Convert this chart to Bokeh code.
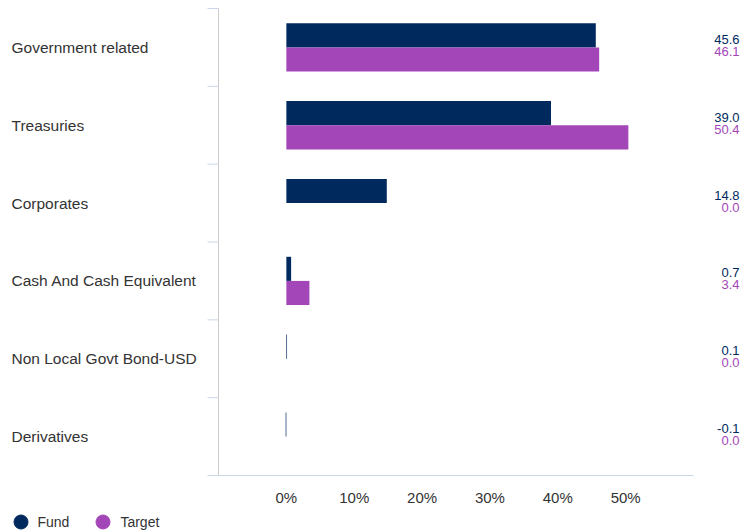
from bokeh.plotting import figure
from bokeh.models import (Range1d, ColumnDataSource, LabelSet, Legend, LegendItem)
from bokeh.core.properties import value
from bokeh.transform import dodge
from bokeh.embed import file_html
from bokeh.resources import INLINE

categories = ["Government related", "Treasuries", "Corporates",
              "Cash And Cash Equivalent", "Non Local Govt Bond-USD", "Derivatives"]
fund = [45.6, 39.0, 14.8, 0.7, 0.1, -0.1]
target = [46.1, 50.4, 0.0, 3.4, 0.0, 0.0]
x_ticks = [0, 10, 20, 30, 40, 50]
x_min, x_max = -10, 60

FUND_COLOR = "#002a5e"
TARGET_COLOR = "#a346b8"
FONT = "Liberation Sans"
TEXT = "#333333"

# layout (pixels)
W, H = 740, 531
PLOT_L, PLOT_R, PLOT_T, PLOT_B = 218, 693, 8, 475
TICK_PX = 11

n = len(categories)
px_x = (PLOT_R - PLOT_L) / (x_max - x_min)
px_y = (PLOT_B - PLOT_T) / n
x_range = Range1d(x_min - PLOT_L / px_x, x_max + (W - PLOT_R) / px_x)
y_range = Range1d((n - 0.5) + (H - PLOT_B) / px_y, -0.5 - PLOT_T / px_y)

pos = list(range(n))
src = ColumnDataSource(dict(
    pos=pos, cat=categories, fund=fund, target=target,
    fund_lbl=[f"{v:.1f}" for v in fund],
    target_lbl=[f"{v:.1f}" for v in target],
))

p = figure(width=W, height=H, x_range=x_range, y_range=y_range,
           output_backend="svg", toolbar_location=None,
           x_axis_type=None, y_axis_type=None,
           min_border=0)
p.outline_line_color = None
p.xgrid.visible = False
p.ygrid.visible = False

bar_h = 0.31
p.hbar(y=dodge("pos", -bar_h / 2), left=0, right="fund", height=bar_h,
       source=src, fill_color=FUND_COLOR, line_color=None)
p.hbar(y=dodge("pos", bar_h / 2), left=0, right="target", height=bar_h,
       source=src, fill_color=TARGET_COLOR, line_color=None)

# category axis line and boundary ticks
bounds = [i - 0.5 for i in range(n + 1)]
p.segment(x0=[x_min], y0=[-0.5], x1=[x_min], y1=[n - 0.5],
          line_color="#cccccc", line_width=1)
p.segment(x0=[x_min - TICK_PX / px_x] * len(bounds), y0=bounds,
          x1=[x_min] * len(bounds), y1=bounds,
          line_color="#ccd6eb", line_width=1)
# value axis line
p.segment(x0=[x_min], y0=[n - 0.5], x1=[x_max], y1=[n - 0.5],
          line_color="#ccd6eb", line_width=1)

F = value(FONT)

# value axis tick labels
tick_src = ColumnDataSource(dict(x=x_ticks, t=[f"{t}%" for t in x_ticks]))
p.add_layout(LabelSet(x="x", y=H - 497, y_units="screen", text="t", source=tick_src,
                      text_align="center", text_baseline="middle",
                      text_font=F, text_font_size="15px", text_color=TEXT))

# category labels
p.add_layout(LabelSet(x=11, x_units="screen", y="pos", text="cat", source=src,
                      text_align="left", text_baseline="middle",
                      text_font=F, text_font_size="15.5px", text_color=TEXT))

# value labels
p.add_layout(LabelSet(x=739, x_units="screen", y="pos", y_offset=8, text="fund_lbl",
                      source=src, text_align="right", text_baseline="middle",
                      text_font=F, text_font_size="13px", text_color=FUND_COLOR))
p.add_layout(LabelSet(x=739, x_units="screen", y="pos", y_offset=-4, text="target_lbl",
                      source=src, text_align="right", text_baseline="middle",
                      text_font=F, text_font_size="13px", text_color=TARGET_COLOR))

# legend (placeholder renderers carry only the legend swatch style)
nan = float("nan")
r1 = p.scatter(x=[nan], y=[nan], marker="circle", color=FUND_COLOR)
r2 = p.scatter(x=[nan], y=[nan], marker="circle", color=TARGET_COLOR)
legend = Legend(items=[LegendItem(label="Fund", renderers=[r1], index=0),
                       LegendItem(label="Target", renderers=[r2], index=0)],
                orientation="horizontal", location=(2.5, -8),
                glyph_width=35, glyph_height=35, label_standoff=0, spacing=16,
                padding=0, margin=0, border_line_color=None,
                background_fill_alpha=0,
                label_text_font=FONT, label_text_font_size="14px",
                label_text_color=TEXT)
p.add_layout(legend, "center")

open("out.html", "w").write(file_html(p, INLINE))
